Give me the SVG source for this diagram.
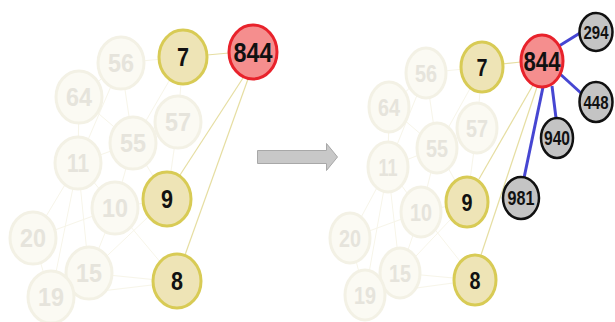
<svg xmlns="http://www.w3.org/2000/svg" width="615" height="322" viewBox="0 0 615 322">
<style>
.fade ellipse{fill:#fbfaf3;stroke:#f3f1e5;stroke-width:3}
.fade text{fill:#e6e4dc}
.yel ellipse{fill:#eee4b6;stroke:#d8cb55;stroke-width:3}
.red ellipse{fill:#f58e8e;stroke:#e8222b;stroke-width:3}
.gry ellipse{fill:#c4c4c4;stroke:#111;stroke-width:2.5}
text{font-family:"Liberation Sans",Arial,sans-serif;font-weight:bold;text-anchor:middle;fill:#111}
.bg line{stroke:#f7f5e9;stroke-width:1}
.ye line{stroke:#e6dea2;stroke-width:1.2}
.bl line{stroke:#4646d2;stroke-width:3}
</style>
<rect width="615" height="322" fill="#fff"/>
<g id="connectors">
<g class="bg">
<line x1="121" y1="63" x2="183" y2="57"/><line x1="79" y1="97" x2="121" y2="63"/><line x1="79" y1="97" x2="78" y2="163"/><line x1="121" y1="63" x2="133" y2="143"/><line x1="133" y1="143" x2="183" y2="57"/><line x1="178" y1="122" x2="183" y2="57"/><line x1="78" y1="163" x2="133" y2="143"/><line x1="78" y1="163" x2="115" y2="208"/><line x1="133" y1="143" x2="115" y2="208"/><line x1="115" y1="208" x2="167" y2="199"/><line x1="33" y1="238" x2="78" y2="163"/><line x1="33" y1="238" x2="51" y2="297"/><line x1="89" y1="273" x2="115" y2="208"/><line x1="89" y1="273" x2="177" y2="282"/><line x1="51" y1="297" x2="177" y2="282"/><line x1="51" y1="297" x2="78" y2="163"/><line x1="89" y1="273" x2="78" y2="163"/><line x1="178" y1="122" x2="167" y2="199"/><line x1="133" y1="143" x2="167" y2="199"/><line x1="115" y1="208" x2="177" y2="282"/><line x1="89" y1="273" x2="167" y2="199"/><line x1="79" y1="97" x2="133" y2="143"/><line x1="121" y1="63" x2="78" y2="163"/><line x1="33" y1="238" x2="115" y2="208"/>
<line x1="426" y1="73" x2="482" y2="67"/><line x1="389" y1="107" x2="426" y2="73"/><line x1="389" y1="107" x2="388" y2="167"/><line x1="426" y1="73" x2="437" y2="148"/><line x1="437" y1="148" x2="482" y2="67"/><line x1="477" y1="128" x2="482" y2="67"/><line x1="388" y1="167" x2="437" y2="148"/><line x1="388" y1="167" x2="421" y2="212"/><line x1="437" y1="148" x2="421" y2="212"/><line x1="421" y1="212" x2="467" y2="202"/><line x1="350" y1="238" x2="388" y2="167"/><line x1="350" y1="238" x2="365" y2="295"/><line x1="400" y1="273" x2="421" y2="212"/><line x1="400" y1="273" x2="475" y2="280"/><line x1="365" y1="295" x2="475" y2="280"/><line x1="365" y1="295" x2="388" y2="167"/><line x1="400" y1="273" x2="388" y2="167"/><line x1="477" y1="128" x2="467" y2="202"/><line x1="437" y1="148" x2="467" y2="202"/><line x1="421" y1="212" x2="475" y2="280"/><line x1="400" y1="273" x2="467" y2="202"/><line x1="389" y1="107" x2="437" y2="148"/><line x1="426" y1="73" x2="388" y2="167"/><line x1="350" y1="238" x2="421" y2="212"/>
</g>
<g class="ye">
<line x1="207" y1="55" x2="229" y2="53"/><line x1="243" y1="78" x2="180" y2="175"/><line x1="248" y1="79" x2="185" y2="255"/>
<line x1="502" y1="64" x2="521" y2="62"/><line x1="533" y1="85" x2="479" y2="179"/><line x1="537" y1="87" x2="481" y2="255"/>
</g>
<g class="bl">
<line x1="559" y1="46" x2="580" y2="33"/><line x1="559" y1="73" x2="582" y2="94"/><line x1="552" y1="86" x2="556" y2="118"/><line x1="543" y1="87" x2="524" y2="178"/>
</g>
</g>
<g id="arrow"><path d="M257.5 150.5 H326.5 V143.5 L337.5 157 L326.5 170.5 V163.5 H257.5 Z" fill="#c8c8c8" stroke="#a8a8a8" stroke-width="1"/></g>

<g id="L56" class="fade"><ellipse cx="121" cy="63" rx="23" ry="26"/><text x="121" y="72" font-size="25" textLength="26" lengthAdjust="spacingAndGlyphs">56</text></g>
<g id="L64" class="fade"><ellipse cx="79" cy="97" rx="23" ry="26"/><text x="79" y="106" font-size="25" textLength="26" lengthAdjust="spacingAndGlyphs">64</text></g>
<g id="L57" class="fade"><ellipse cx="178" cy="122" rx="23" ry="26"/><text x="178" y="131" font-size="25" textLength="26" lengthAdjust="spacingAndGlyphs">57</text></g>
<g id="L55" class="fade"><ellipse cx="133" cy="143" rx="23" ry="26"/><text x="133" y="152" font-size="25" textLength="26" lengthAdjust="spacingAndGlyphs">55</text></g>
<g id="L11" class="fade"><ellipse cx="78" cy="163" rx="23" ry="26"/><text x="78" y="172" font-size="25" textLength="22" lengthAdjust="spacingAndGlyphs">11</text></g>
<g id="L10" class="fade"><ellipse cx="115" cy="208" rx="23" ry="26"/><text x="115" y="217" font-size="25" textLength="26" lengthAdjust="spacingAndGlyphs">10</text></g>
<g id="L20" class="fade"><ellipse cx="33" cy="238" rx="23" ry="26"/><text x="33" y="247" font-size="25" textLength="26" lengthAdjust="spacingAndGlyphs">20</text></g>
<g id="L15" class="fade"><ellipse cx="89" cy="273" rx="23" ry="26"/><text x="89" y="282" font-size="25" textLength="26" lengthAdjust="spacingAndGlyphs">15</text></g>
<g id="L19" class="fade"><ellipse cx="51" cy="297" rx="23" ry="26"/><text x="51" y="306" font-size="25" textLength="26" lengthAdjust="spacingAndGlyphs">19</text></g>
<g id="L7" class="yel"><ellipse cx="183" cy="57" rx="24" ry="27"/><text x="183" y="66" font-size="25" textLength="12" lengthAdjust="spacingAndGlyphs">7</text></g>
<g id="L9" class="yel"><ellipse cx="167" cy="199" rx="24" ry="27"/><text x="167" y="208" font-size="25" textLength="12" lengthAdjust="spacingAndGlyphs">9</text></g>
<g id="L8" class="yel"><ellipse cx="177" cy="281" rx="24" ry="27"/><text x="177" y="290" font-size="25" textLength="12" lengthAdjust="spacingAndGlyphs">8</text></g>
<g id="L844" class="red"><ellipse cx="253" cy="52" rx="24" ry="27"/><text x="253" y="62" font-size="28" textLength="39" lengthAdjust="spacingAndGlyphs">844</text></g>

<g id="R56" class="fade"><ellipse cx="426" cy="73" rx="20" ry="25"/><text x="426" y="82" font-size="24" textLength="22" lengthAdjust="spacingAndGlyphs">56</text></g>
<g id="R64" class="fade"><ellipse cx="389" cy="107" rx="20" ry="25"/><text x="389" y="116" font-size="24" textLength="22" lengthAdjust="spacingAndGlyphs">64</text></g>
<g id="R57" class="fade"><ellipse cx="477" cy="128" rx="20" ry="25"/><text x="477" y="137" font-size="24" textLength="22" lengthAdjust="spacingAndGlyphs">57</text></g>
<g id="R55" class="fade"><ellipse cx="437" cy="148" rx="20" ry="25"/><text x="437" y="157" font-size="24" textLength="22" lengthAdjust="spacingAndGlyphs">55</text></g>
<g id="R11" class="fade"><ellipse cx="388" cy="167" rx="20" ry="25"/><text x="388" y="176" font-size="24" textLength="19" lengthAdjust="spacingAndGlyphs">11</text></g>
<g id="R10" class="fade"><ellipse cx="421" cy="212" rx="20" ry="25"/><text x="421" y="221" font-size="24" textLength="22" lengthAdjust="spacingAndGlyphs">10</text></g>
<g id="R20" class="fade"><ellipse cx="350" cy="238" rx="20" ry="25"/><text x="350" y="247" font-size="24" textLength="22" lengthAdjust="spacingAndGlyphs">20</text></g>
<g id="R15" class="fade"><ellipse cx="400" cy="273" rx="20" ry="25"/><text x="400" y="282" font-size="24" textLength="22" lengthAdjust="spacingAndGlyphs">15</text></g>
<g id="R19" class="fade"><ellipse cx="365" cy="295" rx="20" ry="25"/><text x="365" y="304" font-size="24" textLength="22" lengthAdjust="spacingAndGlyphs">19</text></g>
<g id="R7" class="yel"><ellipse cx="482" cy="67" rx="21" ry="25"/><text x="482" y="76" font-size="24" textLength="11" lengthAdjust="spacingAndGlyphs">7</text></g>
<g id="R9" class="yel"><ellipse cx="467" cy="202" rx="21" ry="25"/><text x="467" y="211" font-size="24" textLength="11" lengthAdjust="spacingAndGlyphs">9</text></g>
<g id="R8" class="yel"><ellipse cx="475" cy="280" rx="21" ry="25"/><text x="475" y="289" font-size="24" textLength="11" lengthAdjust="spacingAndGlyphs">8</text></g>
<g id="R844" class="red"><ellipse cx="542" cy="61" rx="21" ry="26"/><text x="542" y="71" font-size="27" textLength="37" lengthAdjust="spacingAndGlyphs">844</text></g>
<g id="R294" class="gry"><ellipse cx="596" cy="32" rx="16.5" ry="19"/><text x="596" y="39" font-size="18" textLength="25" lengthAdjust="spacingAndGlyphs">294</text></g>
<g id="R448" class="gry"><ellipse cx="596" cy="102" rx="16.5" ry="20"/><text x="596" y="109" font-size="18" textLength="25" lengthAdjust="spacingAndGlyphs">448</text></g>
<g id="R940" class="gry"><ellipse cx="557" cy="138" rx="16" ry="20"/><text x="557" y="145" font-size="20" textLength="26" lengthAdjust="spacingAndGlyphs">940</text></g>
<g id="R981" class="gry"><ellipse cx="521" cy="198" rx="18" ry="21"/><text x="521" y="205" font-size="20" textLength="27" lengthAdjust="spacingAndGlyphs">981</text></g>
</svg>
